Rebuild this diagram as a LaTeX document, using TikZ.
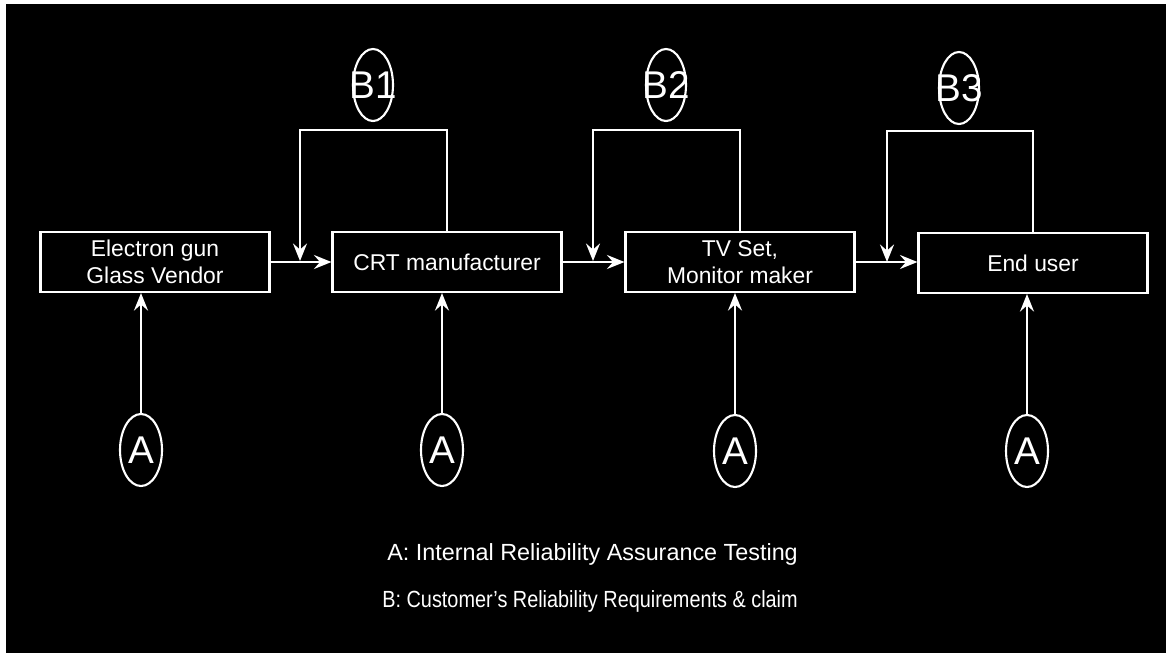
\documentclass[tikz,border=0pt]{standalone}
\usepackage{fontspec}
\setmainfont{Liberation Sans}
\usetikzlibrary{shapes.geometric,arrows.meta}

\begin{document}
\begin{tikzpicture}[x=0.02cm,y=-0.02cm,
  box/.style={draw=white,line width=1.2pt,minimum width=4.58cm,minimum height=1.2cm,inner sep=0pt,align=center,text=white,font=\fontsize{13}{15}\selectfont},
  bell/.style={draw=white,line width=1.2pt,ellipse,minimum width=0.8cm,minimum height=1.44cm,inner sep=0pt,text=white,font=\fontsize{22}{22}\selectfont},
  arr/.style={draw=white,line width=1.2pt,-{Stealth[length=10pt,width=8pt,inset=3.5pt]}},
  note/.style={anchor=base west,inner sep=0pt,text=white,font=\fontsize{13.3}{15}\selectfont}]
\useasboundingbox (0,0) rectangle (1166,653);
\fill[white] (0,0) rectangle (1166,653);
\fill[black] (6,4) rectangle (1166,653);

\coordinate (k1) at (300,130);
\coordinate (j1) at (300,261);
\coordinate (k2) at (593,130);
\coordinate (j2) at (593,261);
\coordinate (k3) at (887,131);
\coordinate (j3) at (887,262);

% chain
\node[box] (gun) at (155,262) {Electron gun\\Glass Vendor};
\node[box] (crt) at (447,262) {CRT manufacturer};
\node[box] (tv) at (740,262) {TV Set,\\Monitor maker};
\node[box] (user) at (1033,263) {End user};

\draw[arr] (gun) -- (crt);
\draw[arr] (crt) -- (tv);
\draw[arr] (tv.east) -- (tv.east -| user.west);

% customer feedback
\draw[arr] (crt.north) |- (k1) -- (j1);
\draw[arr] (tv.north) |- (k2) -- (j2);
\draw[arr] (user.north) |- (k3) -- (j3);

\node[bell] (b1) at (373,85) {\makebox[0pt]{\raisebox{-3pt}{B1}}};
\node[bell] (b2) at (666,85) {\makebox[0pt]{\raisebox{-3pt}{B2}}};
\node[bell] (b3) at (959,88) {\makebox[0pt]{\raisebox{-3pt}{B3}}};

% internal testing
\node[bell,minimum width=0.84cm] (a1) at (141,450) {\makebox[0pt]{A}};
\node[bell,minimum width=0.84cm] (a2) at (442,450) {\makebox[0pt]{A}};
\node[bell,minimum width=0.84cm] (a3) at (735,451) {\makebox[0pt]{A}};
\node[bell,minimum width=0.84cm] (a4) at (1027,451) {\makebox[0pt]{A}};

\draw[arr] (a1) -- (a1 |- gun.south);
\draw[arr] (a2) -- (a2 |- crt.south);
\draw[arr] (a3) -- (a3 |- tv.south);
\draw[arr] (a4) -- (a4 |- user.south);

\node[note] (la) at (387,560) {A: Internal Reliability Assurance Testing};
\node[note] (lb) at (382,607) {\scalebox{0.85}[1]{B: Customer’s Reliability Requirements \& claim}};
\end{tikzpicture}
\end{document}
